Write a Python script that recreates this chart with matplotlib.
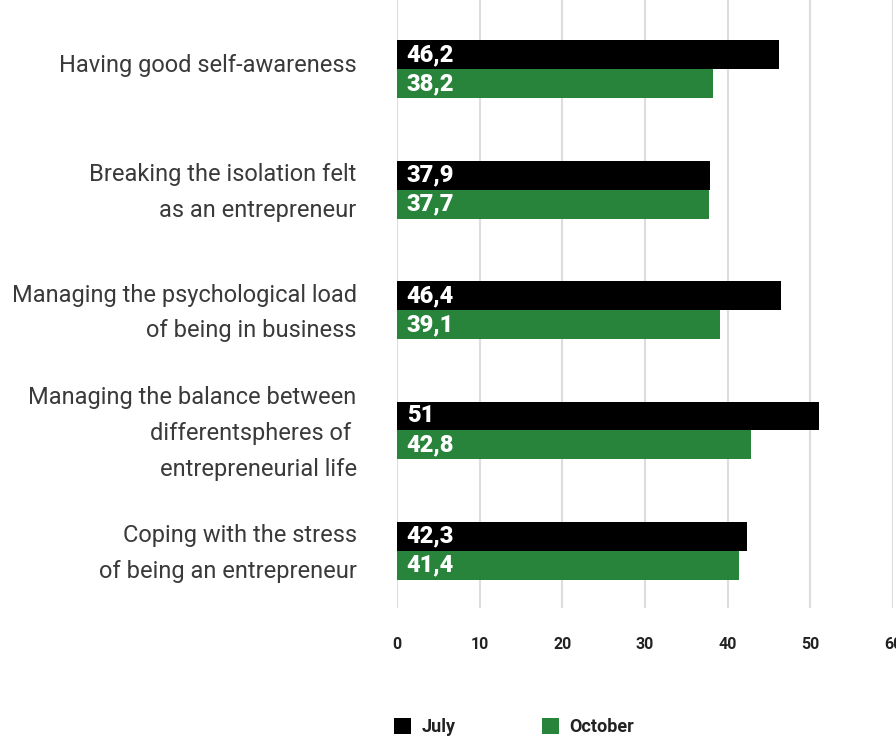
import matplotlib
matplotlib.use("Agg")
import matplotlib.pyplot as plt
import matplotlib.transforms as mtransforms
import numpy as np

categories = [
    "Having good self-awareness",
    "Breaking the isolation felt\nas an entrepreneur",
    "Managing the psychological load\nof being in business",
    "Managing the balance between\ndifferentspheres of \nentrepreneurial life",
    "Coping with the stress\nof being an entrepreneur",
]
july = [46.2, 37.9, 46.4, 51, 42.3]
october = [38.2, 37.7, 39.1, 42.8, 41.4]
series_names = ["July", "October"]
colors = ["#000000", "#28843b"]
xticks = [0, 10, 20, 30, 40, 50, 60]

def fmt(v):
    s = ("%g" % v)
    return s.replace(".", ",")

plt.rcParams['font.family'] = ['Roboto', 'DejaVu Sans']

fig = plt.figure(figsize=(8.96, 7.38), dpi=100)
ax = fig.add_axes([397/896, 1 - 608/738, (893-397)/896, 608/738])

y = np.arange(len(categories))
h = 0.24
ax.barh(y - h/2, july, height=h, color=colors[0], label=series_names[0], zorder=3)
ax.barh(y + h/2, october, height=h, color=colors[1], label=series_names[1], zorder=3)

for yi, v in zip(y, july):
    ax.annotate(fmt(v), xy=(0, yi - h/2), xytext=(7, 0), textcoords='offset points',
                va='center', ha='left', color='white', fontsize=17, fontweight='black', zorder=4)
for yi, v in zip(y, october):
    ax.annotate(fmt(v), xy=(0, yi + h/2), xytext=(7, 0), textcoords='offset points',
                va='center', ha='left', color='white', fontsize=17, fontweight='black', zorder=4)

ax.set_xlim(0, 60)
ax.set_ylim(4 + 0.475, -0.575)
ax.set_xticks(xticks)
ax.set_xticklabels([str(t) for t in xticks], fontsize=11.5, fontweight='bold', color='#222222')
ax.set_yticks(y)
ax.set_yticklabels(categories, fontsize=17, fontweight='normal', color='#3a3a3a', linespacing=1.72)
ax.tick_params(axis='both', length=0)
ax.tick_params(axis='x', pad=21)
ax.tick_params(axis='y', pad=29)
shift = mtransforms.ScaledTranslation(0, 6/100, fig.dpi_scale_trans)
for lab in ax.get_yticklabels():
    lab.set_transform(lab.get_transform() + shift)
ax.grid(axis='x', color='#dddddd', linewidth=1.5, zorder=0)
for s in ax.spines.values():
    s.set_visible(False)

leg = fig.legend(loc='lower left', bbox_to_anchor=(392/896, 0.0), ncol=2, frameon=False,
                 prop={'size': 13, 'weight': 'bold'}, handlelength=0.95, handleheight=0.95,
                 columnspacing=4.75, handletextpad=0.6, borderpad=0.1, borderaxespad=0.0)
for t in leg.get_texts():
    t.set_color('#222222')

fig.savefig("out.png", dpi=100)
